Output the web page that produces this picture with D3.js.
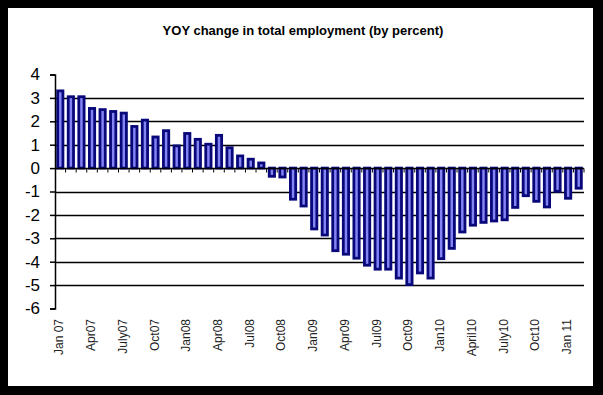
<!DOCTYPE html>
<html>
<head>
<meta charset="utf-8">
<script src="https://cdn.jsdelivr.net/npm/d3@7"></script>
<style>
  body { margin: 0; background: #000; }
  svg { display: block; }
</style>
</head>
<body>
<svg id="chart"></svg>
<script>
// months Jan 2007 .. Feb 2011
var months = [
  "2007-01","2007-02","2007-03","2007-04","2007-05","2007-06","2007-07","2007-08","2007-09","2007-10","2007-11","2007-12",
  "2008-01","2008-02","2008-03","2008-04","2008-05","2008-06","2008-07","2008-08","2008-09","2008-10","2008-11","2008-12",
  "2009-01","2009-02","2009-03","2009-04","2009-05","2009-06","2009-07","2009-08","2009-09","2009-10","2009-11","2009-12",
  "2010-01","2010-02","2010-03","2010-04","2010-05","2010-06","2010-07","2010-08","2010-09","2010-10","2010-11","2010-12",
  "2011-01","2011-02"
]

var yoyChange = [
  3.3, 3.05, 3.05, 2.55, 2.5, 2.42, 2.35, 1.78, 2.05, 1.33, 1.6, 0.95,
  1.48, 1.23, 1.02, 1.4, 0.87, 0.52, 0.38, 0.22, -0.35, -0.38, -1.33, -1.62,
  -2.6, -2.86, -3.53, -3.68, -3.85, -4.15, -4.32, -4.32, -4.7, -4.98, -4.48, -4.7,
  -3.87, -3.43, -2.73, -2.44, -2.32, -2.26, -2.21, -1.68, -1.18, -1.42, -1.66, -0.99,
  -1.29, -0.86
]

// labelled months (every third) and the text shown for them
var tickMonths = ["2007-01","2007-04","2007-07","2007-10","2008-01","2008-04","2008-07","2008-10",
                  "2009-01","2009-04","2009-07","2009-10","2010-01","2010-04","2010-07","2010-10","2011-01"]
var tickLabels = ["Jan 07","Apr07","July07","Oct07","Jan08","Apr08","Jul08","Oct08",
                  "Jan09","Apr09","Jul09","Oct09","Jan10","April10","July10","Oct10","Jan 11"]

var yTicks = [4, 3, 2, 1, 0, -1, -2, -3, -4, -5, -6]

var dataset = months.map((m, i) => ({month: m, value: yoyChange[i]}))

var dimensions = {
    width: 603,
    height: 395,
    margin: { top: 74.5, bottom: 86.5, right: 19, left: 55 }
}

var svg = d3.select("#chart")
            .attr("width", dimensions.width)
            .attr("height", dimensions.height)

// white panel inside the black frame
svg.append("rect")
   .attr("x", 8).attr("y", 8)
   .attr("width", 585).attr("height", 378)
   .attr("fill", "#fff")

svg.append("text")
   .text("YOY change in total employment (by percent)")
   .attr("x", 303)
   .attr("y", 35)
   .attr("text-anchor", "middle")
   .style("font-family", "Arial, 'Liberation Sans', sans-serif")
   .style("font-size", "13px")
   .style("font-weight", "bold")
   .attr("fill", "#000")

var xScale = d3.scaleBand()
               .domain(months)
               .range([dimensions.margin.left, dimensions.width - dimensions.margin.right])
               .paddingInner(0.5)
               .paddingOuter(0.25)

var yScale = d3.scaleLinear()
               .domain([-6, 4])
               .range([dimensions.height - dimensions.margin.bottom, dimensions.margin.top])

var xLeft = dimensions.margin.left
var xRight = xScale.range()[1]

// gridlines
svg.append("g")
   .selectAll("line")
   .data(yTicks.filter(d => d !== 0 && d !== 4 && d !== -6))
   .enter()
   .append("line")
   .attr("x1", xLeft)
   .attr("x2", xRight)
   .attr("y1", d => Math.round(yScale(d)) + 0.5)
   .attr("y2", d => Math.round(yScale(d)) + 0.5)
   .attr("stroke", "#000")
   .attr("stroke-width", 1.5)

// bars
svg.append("g")
   .selectAll("rect")
   .data(dataset)
   .enter()
   .append("rect")
   .attr("x", d => xScale(d.month))
   .attr("width", xScale.bandwidth())
   .attr("y", d => yScale(Math.max(0, d.value)))
   .attr("height", d => Math.abs(yScale(d.value) - yScale(0)))
   .attr("fill", "#8484f4")
   .attr("stroke", "#08087a")
   .attr("stroke-width", 2.8)

// y axis
var yAxisGen = d3.axisLeft(yScale).tickValues(yTicks).tickSize(5).tickFormat(d3.format("d"))
var yAxis = svg.append("g")
               .attr("transform", `translate(${xLeft},0)`)
               .call(yAxisGen)
yAxis.select(".domain").attr("stroke", "#000").attr("stroke-width", 1.5)
yAxis.selectAll(".tick line").attr("stroke", "#000").attr("stroke-width", 1.5)
yAxis.selectAll("text")
     .attr("x", -15)
     .attr("fill", "#000")
     .style("font-family", "Arial, 'Liberation Sans', sans-serif")
     .style("font-size", "17px")
     .text(d => d < 0 ? "-" + Math.abs(d) : d)

// x axis on the zero line, ticks between categories
var zeroY = Math.round(yScale(0)) + 0.5
svg.append("line")
   .attr("x1", xLeft).attr("x2", xRight)
   .attr("y1", zeroY).attr("y2", zeroY)
   .attr("stroke", "#000")
   .attr("stroke-width", 1.5)

var step = xScale.step()
svg.append("g")
   .selectAll("line")
   .data(months)
   .enter()
   .append("line")
   .attr("x1", d => xScale(d) + xScale.bandwidth() / 2 + step / 2)
   .attr("x2", d => xScale(d) + xScale.bandwidth() / 2 + step / 2)
   .attr("y1", zeroY)
   .attr("y2", zeroY + 4)
   .attr("stroke", "#000")
   .attr("stroke-width", 1)

// rotated month labels
svg.append("g")
   .selectAll("text")
   .data(tickMonths)
   .enter()
   .append("text")
   .text((d, i) => tickLabels[i])
   .attr("transform", d => `translate(${xScale(d) + xScale.bandwidth() / 2 + 3},319) rotate(-90)`)
   .attr("text-anchor", "end")
   .attr("fill", "#222")
   .style("font-family", "Arial, 'Liberation Sans', sans-serif")
   .style("font-size", "12px")
</script>
</body>
</html>
